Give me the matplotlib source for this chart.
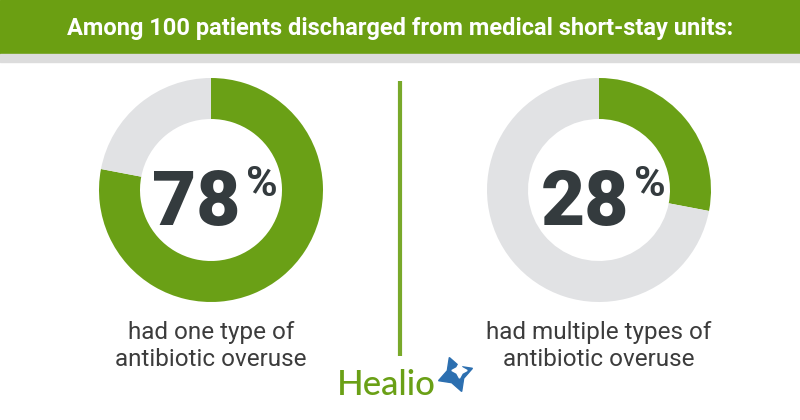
import matplotlib
matplotlib.use("Agg")
import matplotlib.pyplot as plt
from matplotlib.patches import Rectangle

title = "Among 100 patients discharged from medical short-stay units:"
values = [78, 28]
labels = ["78", "28"]
captions = ["had one type of\nantibiotic overuse", "had multiple types of\nantibiotic overuse"]

GREEN = "#6aa016"
GRAY = "#e1e2e4"
DARK = "#343b3e"
TEXT = "#3c3c3c"

W, H = 800, 420
fig = plt.figure(figsize=(8, 4.2), dpi=100)
ax = fig.add_axes([0, 0, 1, 1])

centers = [(211, 420 - 190), (599, 420 - 190)]
R = 112
width = 41

for v, c in zip(values, centers):
    ax.pie([v, 100 - v], colors=[GREEN, GRAY], startangle=90, counterclock=False,
           center=c, radius=R, wedgeprops=dict(width=width, edgecolor="none"), frame=True)

ax.set_xlim(0, W)
ax.set_ylim(0, H)
ax.set_aspect("equal")
ax.axis("off")

# header
ax.add_patch(Rectangle((0, 420 - 54), W, 54, color="#6b9f12", zorder=5))
ax.add_patch(Rectangle((0, 420 - 62), W, 8, color="#dcdcdc", zorder=5))
ax.text(400, 420 - 29, title, ha="center", va="center", color="white",
        fontsize=17, fontweight="bold", family="Roboto", zorder=6)

# big numbers
for lab, c in zip(labels, centers):
    ax.text(c[0] + 30, 420 - 225, lab, ha="right", va="baseline", color=DARK,
            fontsize=55, fontweight="black", family="Roboto")
    ax.text(c[0] + 35, 420 - 164, "%", ha="left", va="top", color=DARK,
            fontsize=31, fontweight="bold", family="Roboto")

# captions
for cap, c in zip(captions, centers):
    ax.text(c[0], 420 - 346, cap, ha="center", va="center", color=TEXT,
            fontsize=17.5, family="Roboto", linespacing=1.2)

# divider
ax.plot([400, 400], [420 - 81, 420 - 356], color="#79a92a", lw=3, solid_capstyle="butt")

# logo
ax.text(386, 420 - 385, "Healio", ha="center", va="center", color="#6aa016",
        fontsize=25, family="Lato", fontweight="medium")
ax.plot([455], [420 - 374], marker=(4, 1, 20), markersize=26, color="#2c6fb0")
ax.plot([459], [420 - 370], marker=(4, 1, 0), markersize=11, color="white")

fig.savefig("out.png", dpi=100)
